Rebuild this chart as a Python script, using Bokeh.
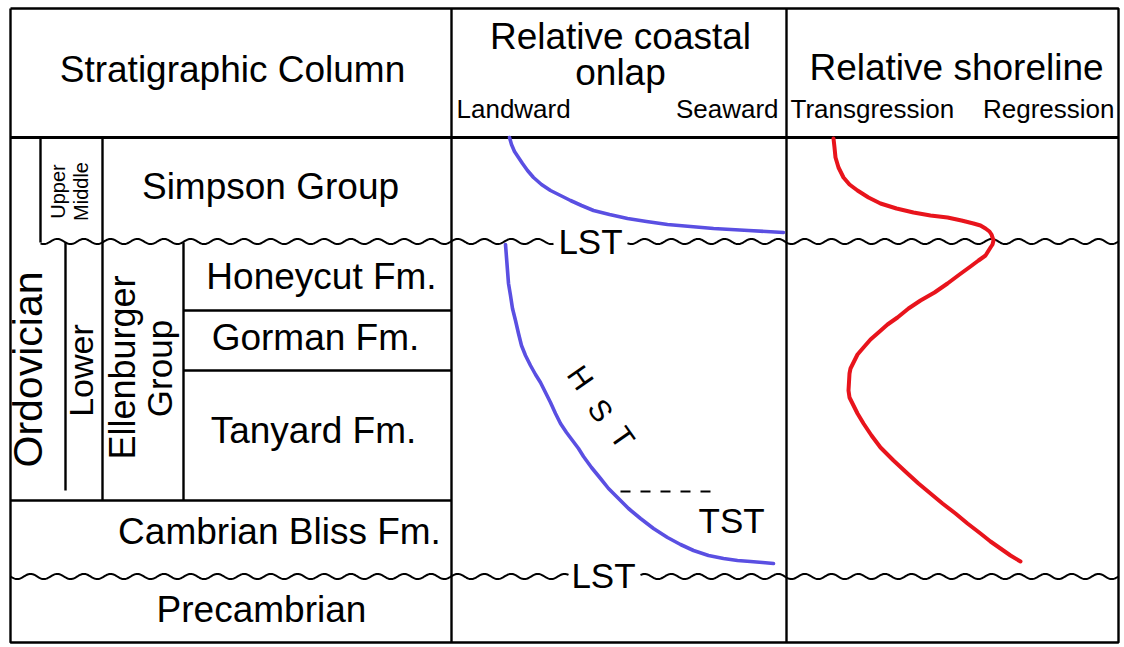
import numpy as np
from bokeh.plotting import figure
from bokeh.models import Range1d, ColumnDataSource
from bokeh.core.properties import value
from bokeh.embed import file_html
from bokeh.resources import INLINE

FONT = "Liberation Sans"

# ---- table structure (diagram coordinates) ----
frame_x = [10, 1118, 1118, 10, 10]
frame_y = [8, 8, 642, 642, 8]
header_y = 137
col_div_x = [451, 786]

seg_x0 = [40, 102, 65, 183, 183, 183, 10]
seg_y0 = [137, 137, 242, 242, 310, 370, 500]
seg_x1 = [40, 102, 65, 183, 451, 451, 451]
seg_y1 = [242, 500, 490, 500, 310, 370, 500]

# unconformities (wavy lines), broken around the LST labels
wave_x0 = [40, 627, 10, 640]
wave_x1 = [553, 1118, 568, 1118]
wave_yc = [241, 241, 576, 576]
wave_period = 26.7
wave_amp = 2.6

# ---- curves ----
onlap_upper_x = [509, 511, 514, 518, 522, 527, 533, 541, 550, 560, 570, 581, 593, 609, 627, 646, 667, 690, 713, 748, 783]
onlap_upper_y = [137, 144, 151, 157, 163, 170, 177, 184, 190, 195, 200, 205, 210, 214, 218, 221, 224, 226, 228, 230, 232]

onlap_lower_x = [505, 506, 507, 508, 510, 512, 515, 518, 521, 525, 530, 535, 540, 545, 550, 555, 560, 566, 572,
                 578, 583, 591, 600, 608, 617, 628, 640, 653, 667, 680, 693, 708, 723, 737, 750, 762, 773]
onlap_lower_y = [244, 257, 270, 283, 295, 308, 320, 333, 345, 355, 365, 374, 382, 392, 402, 413, 423, 432, 440,
                 448, 456, 467, 478, 488, 497, 508, 518, 528, 537, 544, 550, 555, 558, 560, 561, 562, 563]

shore_x = [833, 834, 835, 838, 843, 849, 857, 868, 880, 896, 913, 930, 947, 961, 973, 980, 985, 989, 991, 993,
           992, 990, 985, 978, 970, 959, 947, 934, 920, 908, 897, 887, 878, 870, 863, 857, 853, 850, 849,
           848, 849, 852, 857, 863, 871, 880, 893, 907, 918, 930, 942, 955, 967, 980, 990, 1000, 1010, 1020]
shore_y = [138, 147, 157, 167, 177, 184, 190, 197, 203, 208, 212, 215, 217, 220, 223, 225, 228, 231, 234, 240,
           244, 247, 255, 260, 266, 274, 283, 292, 300, 308, 317, 324, 332, 339, 347, 354, 362, 368, 373,
           390, 397, 403, 413, 423, 435, 447, 460, 473, 483, 493, 503, 513, 523, 533, 541, 548, 555, 561]

dash_x = [620, 717]
dash_y = [491, 491]

# ---- texts (y = centre of capital letters) ----
big_text = ["Stratigraphic Column", "Relative coastal", "onlap", "Relative shoreline",
            "Simpson Group", "Honeycut Fm.", "Gorman Fm.", "Tanyard Fm.",
            "Cambrian Bliss Fm.", "Precambrian"]
big_x = [232, 620, 620, 956, 270, 321, 315, 313, 279, 261]
big_y = [69, 36, 72, 67, 186, 276, 337, 430, 531, 609]

small_left_text = ["Landward", "Transgression"]
small_left_x = [456, 790]
small_right_text = ["Seaward", "Regression"]
small_right_x = [778, 1114]
small_y = [108, 108]

rot_text = ["Ordovician", "Lower", "Ellenburger", "Group", "Upper", "Middle"]
rot_x = [27, 80, 122, 159, 57, 80]
rot_y = [369, 370, 367, 368, 191, 191]
rot_size = ["41px", "34px", "36px", "35px", "20px", "20px"]

seq_text = ["LST", "LST", "TST"]
seq_x = [590, 603, 698]
seq_y = [241, 575, 520]
seq_align = ["center", "center", "left"]

hst_text = ["H", "S", "T"]
hst_x = [580, 600, 622]
hst_y = [377, 410, 437]

p = figure(width=1124, height=647, x_range=Range1d(0, 1124), y_range=Range1d(647, 0),
           output_backend="svg", toolbar_location=None, min_border=0)
p.axis.visible = False
p.grid.visible = False
p.outline_line_color = None
p.background_fill_color = "white"
p.border_fill_color = "white"

LW = 2.4
# frame
p.line(frame_x, frame_y, line_color="black", line_width=LW)
p.segment(x0=[10], y0=[header_y], x1=[1118], y1=[header_y], line_color="black", line_width=3.2)
p.segment(x0=col_div_x, y0=[8, 8], x1=col_div_x, y1=[642, 642], line_color="black", line_width=LW)
p.segment(x0=seg_x0, y0=seg_y0, x1=seg_x1, y1=seg_y1, line_color="black", line_width=LW)

# wavy unconformities
wxs, wys = [], []
for a, b, yc in zip(wave_x0, wave_x1, wave_yc):
    xs = np.arange(a, b + 0.5, 1.0)
    wxs.append(list(xs))
    wys.append(list(yc + wave_amp * np.sin(2 * np.pi * (xs - 10) / wave_period)))
p.multi_line(wxs, wys, line_color="black", line_width=2.0)

# curves
p.line(onlap_upper_x, onlap_upper_y, line_color="#5a4fe2", line_width=3.6, line_join="round", line_cap="round")
p.line(onlap_lower_x, onlap_lower_y, line_color="#5a4fe2", line_width=3.6, line_join="round", line_cap="round")
p.line(shore_x, shore_y, line_color="#e8141c", line_width=4.0, line_join="round", line_cap="round")
p.line(dash_x, dash_y, line_color="black", line_width=2.0, line_dash="10 10")

# texts
p.text(x=big_x, y=big_y, text=big_text, text_font=value(FONT), text_font_size="37px",
       text_align="center", text_baseline="middle", text_color="black")
p.text(x=small_left_x, y=small_y, text=small_left_text, text_font=value(FONT), text_font_size="26px",
       text_align="left", text_baseline="middle", text_color="black")
p.text(x=small_right_x, y=small_y, text=small_right_text, text_font=value(FONT), text_font_size="26px",
       text_align="right", text_baseline="middle", text_color="black")
rot_src = ColumnDataSource(dict(x=rot_x, y=rot_y, text=rot_text, size=rot_size))
p.text(x="x", y="y", text="text", text_font_size="size", source=rot_src, text_font=value(FONT),
       angle=90, angle_units="deg", text_align="center", text_baseline="middle", text_color="black")
seq_src = ColumnDataSource(dict(x=seq_x, y=seq_y, text=seq_text, align=seq_align))
p.text(x="x", y="y", text="text", text_align="align", source=seq_src, text_font=value(FONT),
       text_font_size="35px", text_baseline="middle", text_color="black")
p.text(x=hst_x, y=hst_y, text=hst_text, text_font=value(FONT), text_font_size="30px",
       angle=-55, angle_units="deg", text_align="center", text_baseline="middle", text_color="black")

open("out.html", "w").write(file_html(p, INLINE))
